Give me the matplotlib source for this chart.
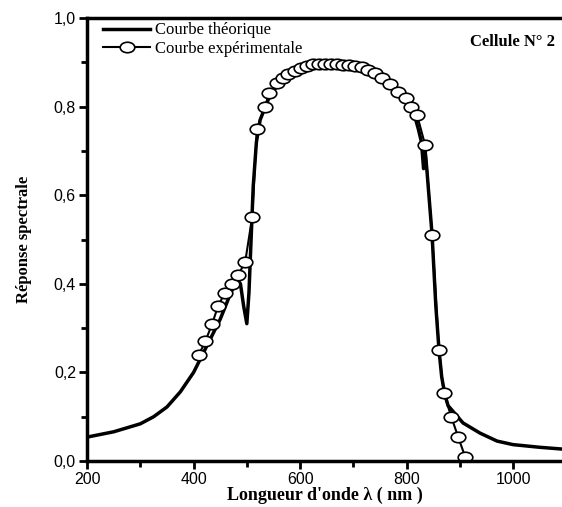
import matplotlib.pyplot as plt
from matplotlib.path import Path
from matplotlib.transforms import Affine2D
from matplotlib.ticker import MultipleLocator, FuncFormatter

# Courbe théorique (lambda en nm, réponse)
lam_theo = [200, 250, 300, 325, 350, 375, 400, 425, 450, 470, 482, 488, 494,
            500, 504, 508, 512, 518, 525, 535, 545, 560, 580, 600, 630, 660,
            700, 740, 780, 800, 815, 822, 828, 832, 835, 838, 842, 848, 855,
            861, 866, 872, 878, 906, 938, 970, 1000, 1050, 1092]
rep_theo = [0.054, 0.066, 0.084, 0.10, 0.122, 0.156, 0.20, 0.26, 0.32, 0.38,
            0.41, 0.40, 0.35, 0.31, 0.38, 0.50, 0.62, 0.72, 0.77, 0.80, 0.83,
            0.85, 0.87, 0.885, 0.893, 0.893, 0.885, 0.87, 0.835, 0.81, 0.78,
            0.75, 0.72, 0.66, 0.70, 0.66, 0.60, 0.51, 0.35, 0.25, 0.19, 0.15,
            0.125, 0.086, 0.063, 0.045, 0.037, 0.031, 0.027]

# Courbe expérimentale
lam_exp = [410, 422, 435, 446, 459, 472, 484, 497, 510, 519, 534, 542, 557,
           568, 577, 590, 602, 613, 624, 635, 647, 658, 669, 680, 692, 703,
           716, 728, 741, 754, 769, 784, 799, 808, 820, 835, 848, 861, 870,
           884, 897, 910]
rep_exp = [0.24, 0.27, 0.31, 0.35, 0.38, 0.40, 0.42, 0.45, 0.55, 0.75, 0.80,
           0.83, 0.853, 0.865, 0.874, 0.88, 0.887, 0.892, 0.896, 0.897, 0.897,
           0.897, 0.896, 0.895, 0.894, 0.892, 0.889, 0.883, 0.875, 0.865,
           0.85, 0.833, 0.82, 0.80, 0.78, 0.713, 0.51, 0.25, 0.153, 0.10,
           0.054, 0.01]

# marqueur ovale (plus large que haut)
ellipse = Path.unit_circle().transformed(Affine2D().scale(1.0, 0.72))

fig = plt.figure(figsize=(5.62, 5.07), dpi=100)
ax = fig.add_axes([0.155, 0.0907, 0.845, 0.8738])

ax.plot(lam_theo, rep_theo, color='black', linewidth=2.5,
        label='Courbe théorique')
ax.plot(lam_exp, rep_exp, color='black', linewidth=1.5, marker=ellipse,
        markersize=10.5, markerfacecolor='white', markeredgecolor='black',
        markeredgewidth=1.2, label='Courbe expérimentale')

ax.set_xlim(200, 1092)
ax.set_ylim(0, 1.0)
ax.xaxis.set_major_locator(MultipleLocator(200))
ax.xaxis.set_minor_locator(MultipleLocator(100))
ax.yaxis.set_major_locator(MultipleLocator(0.2))
ax.yaxis.set_minor_locator(MultipleLocator(0.1))
ax.yaxis.set_major_formatter(FuncFormatter(lambda v, p: f'{v:.1f}'.replace('.', ',')))

for s in ['left', 'bottom', 'top']:
    ax.spines[s].set_linewidth(2.5)
ax.spines['right'].set_visible(False)
ax.tick_params(which='major', direction='out', length=6, width=2,
               labelsize=11.5, pad=2, top=False, right=False)
ax.tick_params(which='minor', direction='out', length=4, width=2,
               top=False, right=False)
for lab in ax.get_xticklabels() + ax.get_yticklabels():
    lab.set_family('Liberation Sans')

ax.set_xlabel("Longueur d'onde λ ( nm )", family='Liberation Serif',
              fontweight='bold', fontsize=13, labelpad=0)
ax.set_ylabel('Réponse spectrale', family='Liberation Serif',
              fontweight='bold', fontsize=12, labelpad=16)

ax.legend(loc='upper left', frameon=False, handlelength=2.8,
          prop={'family': 'Liberation Serif', 'size': 12},
          borderaxespad=0.0, labelspacing=0.15, handletextpad=0.3,
          bbox_to_anchor=(0.02, 1.005))
ax.text(0.985, 0.965, 'Cellule N° 2', transform=ax.transAxes, ha='right',
        va='top', family='Liberation Serif', fontweight='bold', fontsize=12)

fig.savefig('out.png', dpi=100)
